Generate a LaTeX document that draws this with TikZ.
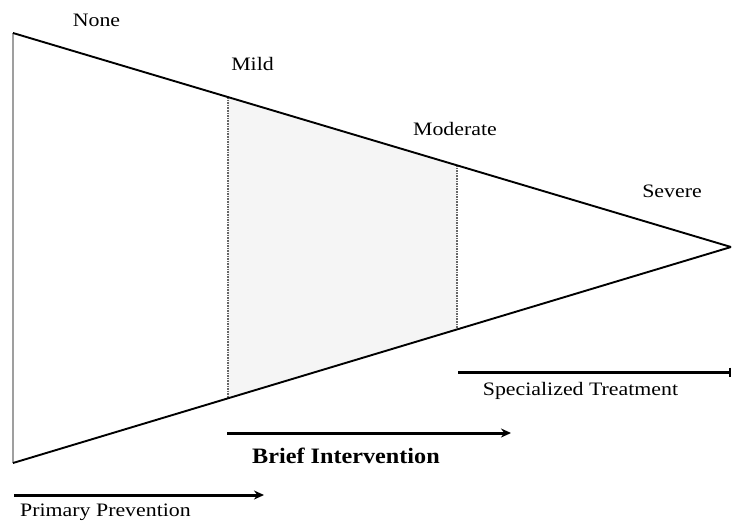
\documentclass[tikz,border=0pt]{standalone}
\usepackage{fontspec}
\setmainfont{Liberation Serif}
\newfontfamily\widefont[FakeStretch=1.15]{Liberation Serif}
\newfontfamily\bwidefont[FakeStretch=1.1]{Liberation Serif}
\usetikzlibrary{arrows.meta}
\tikzset{
  lbl/.style={anchor=base, inner sep=0pt, font=\widefont\fontsize{19}{21}\selectfont},
  blbl/.style={anchor=base, inner sep=0pt, font=\bwidefont\bfseries\fontsize{22}{24}\selectfont},
  edge/.style={line width=1.9pt, black},
  leftedge/.style={line width=2.2pt, gray!75},
  divider/.style={line width=1.6pt, densely dotted, gray!80!black},
  band/.style={fill=gray!8, draw=none},
  phase/.style={line width=3pt, black, -{Stealth[length=10pt,width=9pt]}},
  phasebar/.style={line width=3pt, black, -{Bar[width=9pt,line width=2pt]}}
}
\begin{document}
\begin{tikzpicture}[x=1pt,y=-1pt]
\useasboundingbox (0,0) rectangle (733,522);
% triangle corners
\coordinate (tl) at (13,33);
\coordinate (bl) at (13,463);
\coordinate (apex) at (731,247);
% divider end points
\coordinate (mildtop) at (228,96.9);
\coordinate (mildbot) at (228,398.5);
\coordinate (modtop) at (457,165.0);
\coordinate (modbot) at (457,330.2);
% shaded band
\fill[band] (mildtop) -- (modtop) -- (modbot) -- (mildbot) -- cycle;
\draw[divider] (mildtop) -- (mildbot);
\draw[divider] (modtop) -- (modbot);
\draw[leftedge] (tl) -- (bl);
\draw[edge] (tl) -- (apex);
\draw[edge] (bl) -- (apex);
% labels
\node[lbl] (none) at (96.5,27) {None};
\node[lbl] (mild) at (252.5,70) {Mild};
\node[lbl] (moderate) at (455,135) {Moderate};
\node[lbl] (severe) at (672,197) {Severe};
% phase arrows
\coordinate (sts) at (458,372);
\coordinate (ste) at (731,372);
\draw[phasebar] (sts) -- (ste);
\node[lbl] (spec) at (580.5,395) {Specialized Treatment};
\coordinate (bis) at (227,433);
\coordinate (bie) at (511,433);
\draw[phase] (bis) -- (bie);
\node[blbl] (brief) at (346,463) {Brief Intervention};
\coordinate (pps) at (14,495);
\coordinate (ppe) at (264,495);
\draw[phase] (pps) -- (ppe);
\node[lbl] (primary) at (105.5,516) {Primary Prevention};
\end{tikzpicture}
\end{document}
